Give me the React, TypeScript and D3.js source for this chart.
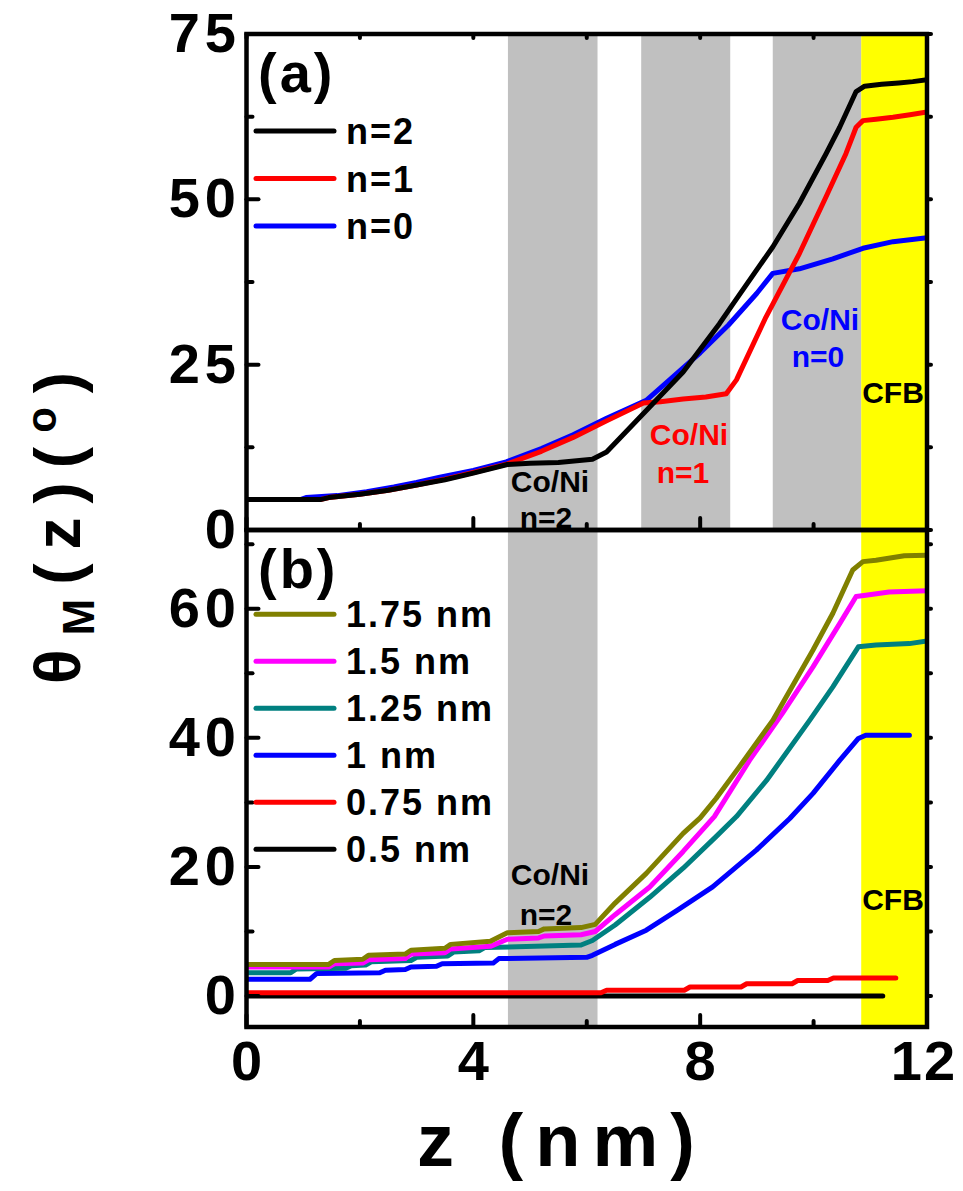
import React from "react";
import * as d3 from "d3";

// ---------- data ----------
const xTicksMajor = [0, 4, 8, 12];
const xTicksMinor = [2, 6, 10];
const yTicksMajorA = [0, 25, 50, 75];
const yTicksMinorA = [12.5, 37.5, 62.5];
const yTicksMajorB = [0, 20, 40, 60];
const yTicksMinorB = [10, 30, 50, 70];

// layer bands (nm)
const grayBandsA: [number, number][] = [[4.61, 6.19], [6.96, 8.53], [9.28, 10.84]];
const grayBandsB: [number, number][] = [[4.61, 6.19]];
const cfbBand: [number, number] = [10.84, 12];

// panel (a)
const curveN2: [number, number][] = [
  [0, 4.6], [1.3, 4.6], [1.45, 4.9], [2.0, 5.4], [2.5, 6.0], [3.0, 6.8], [3.5, 7.6], [4.0, 8.6],
  [4.6, 9.9], [5.0, 10.1], [5.5, 10.2], [6.1, 10.7], [6.35, 11.8], [7.11, 18.6], [7.7, 23.9],
  [8.34, 31.2], [8.58, 34.2], [9.28, 42.8], [9.75, 49.4], [10.22, 56.9], [10.46, 60.9],
  [10.75, 66.3], [10.9, 67.1], [11.2, 67.4], [11.5, 67.6], [11.75, 67.8], [12, 68.1],
];
const curveN1: [number, number][] = [
  [0, 4.6], [1.3, 4.6], [1.45, 4.9], [2.0, 5.4], [2.5, 6.0], [3.0, 6.8], [3.5, 7.7], [4.0, 8.7],
  [4.6, 10.0], [5.2, 11.9], [5.76, 14.0], [6.35, 16.5], [7.0, 19.2], [7.3, 19.4], [7.7, 19.8],
  [8.1, 20.1], [8.46, 20.6], [8.64, 22.7], [9.16, 32.2], [9.75, 41.8], [10.22, 50.4],
  [10.57, 56.9], [10.75, 60.9], [10.87, 61.9], [11.1, 62.1], [11.4, 62.4], [11.7, 62.8], [12, 63.2],
];
const curveN0: [number, number][] = [
  [0, 4.6], [0.95, 4.6], [1.05, 4.9], [1.6, 5.2], [2.12, 5.8], [2.6, 6.5], [3.0, 7.2], [3.41, 8.0],
  [4.0, 9.0], [4.58, 10.3], [5.2, 12.3], [5.76, 14.4], [6.35, 16.9], [7.05, 19.6], [7.5, 23.0],
  [8.0, 26.8], [8.5, 31.0], [9.0, 35.8], [9.28, 38.8], [9.75, 39.5], [10.34, 41.0], [10.87, 42.6],
  [11.4, 43.6], [12, 44.2],
];

// panel (b)
const curve175: [number, number][] = [
  [0, 4.9], [1.45, 4.9], [1.55, 5.5], [2.05, 5.7], [2.15, 6.3], [2.8, 6.5], [2.9, 7.1], [3.5, 7.4],
  [3.6, 8.0], [4.3, 8.5], [4.6, 9.8], [5.15, 10.0], [5.25, 10.4], [5.9, 10.6], [6.15, 11.1],
  [6.5, 14.4], [7.05, 19.0], [7.7, 25.2], [8.0, 27.6], [8.28, 30.6], [8.69, 35.5], [9.28, 42.7],
  [9.99, 53.6], [10.34, 59.3], [10.69, 66.0], [10.87, 67.3], [11.1, 67.5], [11.6, 68.2], [12, 68.3],
];
const curve150: [number, number][] = [
  [0, 4.5], [1.45, 4.5], [1.55, 5.0], [2.05, 5.1], [2.15, 5.6], [2.8, 5.8], [2.9, 6.5], [3.5, 6.7],
  [3.6, 7.3], [4.3, 7.7], [4.6, 8.8], [5.15, 9.0], [5.25, 9.3], [5.9, 9.5], [6.15, 10.0],
  [6.5, 12.6], [7.11, 16.9], [7.7, 22.4], [8.25, 27.8], [8.87, 36.5], [9.45, 43.8], [9.99, 51.0],
  [10.46, 57.7], [10.75, 61.9], [10.92, 62.1], [11.33, 62.6], [12, 62.8],
];
const curve125: [number, number][] = [
  [0, 3.6], [0.78, 3.6], [0.88, 4.2], [1.75, 4.3], [1.85, 4.7], [2.1, 4.8], [2.2, 5.3], [2.9, 5.5],
  [3.0, 6.0], [3.55, 6.2], [3.65, 6.8], [4.1, 7.0], [4.2, 7.5], [5.9, 7.9], [6.1, 8.6],
  [6.5, 11.0], [7.11, 15.3], [7.7, 19.8], [8.28, 24.7], [8.64, 27.8], [9.17, 33.4], [9.93, 42.7],
  [10.34, 47.9], [10.79, 54.1], [11.1, 54.4], [11.69, 54.6], [12, 55.0],
];
const curve100: [number, number][] = [
  [0, 2.6], [1.12, 2.6], [1.24, 3.5], [2.35, 3.6], [2.45, 4.0], [2.8, 4.1], [2.9, 4.5], [3.35, 4.6],
  [3.45, 5.0], [4.35, 5.1], [4.45, 5.8], [6.0, 6.0], [6.1, 6.3], [6.5, 8.0], [7.05, 10.2],
  [7.6, 13.3], [8.22, 16.9], [8.99, 22.6], [9.58, 27.5], [9.99, 31.4], [10.46, 36.5],
  [10.79, 39.9], [10.92, 40.4], [11.69, 40.4],
];
const curve075: [number, number][] = [
  [0, 0.5], [6.25, 0.5], [6.35, 0.9], [7.72, 0.9], [7.82, 1.4], [8.72, 1.4], [8.82, 1.9],
  [9.62, 1.9], [9.72, 2.4], [10.25, 2.4], [10.35, 2.8], [11.45, 2.8],
];
const curve050: [number, number][] = [[0, 0], [11.22, 0]];

const seriesA = [
  { label: "n=2", color: "#000000", data: curveN2 },
  { label: "n=1", color: "#ff0000", data: curveN1 },
  { label: "n=0", color: "#0000ff", data: curveN0 },
];
const seriesB = [
  { label: "1.75 nm", color: "#808000", data: curve175 },
  { label: "1.5 nm", color: "#ff00ff", data: curve150 },
  { label: "1.25 nm", color: "#008080", data: curve125 },
  { label: "1 nm", color: "#0000ff", data: curve100 },
  { label: "0.75 nm", color: "#ff0000", data: curve075 },
  { label: "0.5 nm", color: "#000000", data: curve050 },
];

// ---------- layout ----------
const W = 963;
const H = 1191;
const X0 = 246.5;
const X1 = 927;
const A_TOP = 34;
const MID = 530;
const B_BOT = 1027;
const FONT = "'Liberation Sans', Arial, Helvetica, sans-serif";

const x = d3.scaleLinear().domain([0, 12]).range([X0, X1]);
const yA = d3.scaleLinear().domain([0, 75]).range([MID, A_TOP]);
const yB = d3.scaleLinear().domain([-4.8, 72.2]).range([B_BOT, MID]);

function Panel({ y, top, bottom, bands, series, id }: any) {
  const line = d3
    .line<[number, number]>()
    .x((d) => x(d[0]))
    .y((d) => y(d[1]));
  return (
    <g>
      <defs>
        <clipPath id={id}>
          <rect x={X0} y={top} width={X1 - X0} height={bottom - top} />
        </clipPath>
      </defs>
      {bands.map((b: [number, number], i: number) => (
        <rect key={i} x={x(b[0])} y={top} width={x(b[1]) - x(b[0])} height={bottom - top} fill="#c0c0c0" />
      ))}
      <rect x={x(cfbBand[0])} y={top} width={x(cfbBand[1]) - x(cfbBand[0])} height={bottom - top} fill="#ffff00" />
      <g clipPath={`url(#${id})`}>
        {[...series].reverse().map((s: any) => (
          <path key={s.label} d={line(s.data) || ""} fill="none" stroke={s.color} strokeWidth={5} strokeLinejoin="round" strokeLinecap="round" />
        ))}
      </g>
    </g>
  );
}

function Legend({ series, y0, dy }: any) {
  return (
    <g>
      {series.map((s: any, i: number) => (
        <g key={s.label}>
          <line x1={256} x2={334} y1={y0 + i * dy} y2={y0 + i * dy} stroke={s.color} strokeWidth={5} strokeLinecap="round" />
          <text x={346} y={y0 + i * dy + 13} fontSize={36} fontWeight="bold" fontFamily={FONT} letterSpacing={2}>
            {s.label}
          </text>
        </g>
      ))}
    </g>
  );
}

export default function App() {
  const tickLen = 12;
  const minorLen = 6;
  const ann = { fontSize: 30, fontWeight: "bold" as const, fontFamily: FONT, textAnchor: "middle" as const };
  const tickLS = 5;
  return (
    <svg width={W} height={H} style={{ position: "absolute", left: 0, top: 0, background: "#fff" }}>
      <rect x={0} y={0} width={W} height={H} fill="#fff" />
      <Panel y={yA} top={A_TOP} bottom={MID} bands={grayBandsA} series={seriesA} id="clipA" />
      <Panel y={yB} top={MID} bottom={B_BOT} bands={grayBandsB} series={seriesB} id="clipB" />

      {/* frames */}
      <g stroke="#000" strokeWidth={4.5} fill="none" strokeLinecap="square">
        <rect x={X0} y={A_TOP} width={X1 - X0} height={MID - A_TOP} />
        <rect x={X0} y={MID} width={X1 - X0} height={B_BOT - MID} />
      </g>

      {/* ticks */}
      <g stroke="#000" strokeWidth={4} strokeLinecap="round">
        {yTicksMajorA.map((t) => (
          <line key={"am" + t} x1={X0} x2={X0 + tickLen} y1={yA(t)} y2={yA(t)} />
        ))}
        {yTicksMinorA.map((t) => (
          <line key={"an" + t} x1={X0} x2={X0 + minorLen} y1={yA(t)} y2={yA(t)} />
        ))}
        {yTicksMajorB.map((t) => (
          <line key={"bm" + t} x1={X0} x2={X0 + tickLen} y1={yB(t)} y2={yB(t)} />
        ))}
        {yTicksMinorB.map((t) => (
          <line key={"bn" + t} x1={X0} x2={X0 + minorLen} y1={yB(t)} y2={yB(t)} />
        ))}
        {[...yTicksMajorA, ...yTicksMinorA].map((t) => (
          <line key={"ra" + t} x1={X1} x2={X1 + 4} y1={yA(t)} y2={yA(t)} />
        ))}
        {[...yTicksMajorB, ...yTicksMinorB].map((t) => (
          <line key={"rb" + t} x1={X1} x2={X1 + 4} y1={yB(t)} y2={yB(t)} />
        ))}
        {xTicksMajor.map((t) => (
          <g key={"xm" + t}>
            <line x1={x(t)} x2={x(t)} y1={MID} y2={MID - tickLen} />
            <line x1={x(t)} x2={x(t)} y1={B_BOT} y2={B_BOT - tickLen} />
            <line x1={x(t)} x2={x(t)} y1={A_TOP} y2={A_TOP + 4} />
          </g>
        ))}
        {xTicksMinor.map((t) => (
          <g key={"xn" + t}>
            <line x1={x(t)} x2={x(t)} y1={MID} y2={MID - minorLen} />
            <line x1={x(t)} x2={x(t)} y1={B_BOT} y2={B_BOT - minorLen} />
            <line x1={x(t)} x2={x(t)} y1={A_TOP} y2={A_TOP + 4} />
          </g>
        ))}
      </g>

      {/* tick labels */}
      <g fontSize={56} fontWeight="bold" fontFamily={FONT} textAnchor="end" letterSpacing={tickLS}>
        {yTicksMajorA.map((t) => (
          <text key={"la" + t} x={236 + tickLS} y={yA(t) + 18}>
            {t}
          </text>
        ))}
        {yTicksMajorB.map((t) => (
          <text key={"lb" + t} x={236 + tickLS} y={yB(t) + 18}>
            {t}
          </text>
        ))}
      </g>
      <g fontSize={56} fontWeight="bold" fontFamily={FONT} textAnchor="middle" letterSpacing={2}>
        {xTicksMajor.map((t) => (
          <text key={"lx" + t} x={Math.min(x(t) + 1, 924)} y={1080}>
            {t}
          </text>
        ))}
      </g>

      {/* axis titles */}
      <text x={556 + 6} y={1166} fontSize={74} fontWeight="bold" fontFamily={FONT} textAnchor="middle" letterSpacing={12}>
        z (nm)
      </text>
      <text transform="translate(80,684) rotate(-90)" fontSize={64} fontWeight="bold" fontFamily={FONT} textAnchor="start" letterSpacing={14}>
        θ<tspan fontSize={44} dy={14}>M</tspan>
        <tspan dy={-14}>(z)(</tspan>
        <tspan fontSize={42} dy={-24}>o</tspan>
        <tspan dy={24}>)</tspan>
      </text>

      {/* panel labels */}
      <text x={258} y={92} fontSize={56} fontWeight="bold" fontFamily={FONT} letterSpacing={3}>(a)</text>
      <text x={258} y={588} fontSize={56} fontWeight="bold" fontFamily={FONT} letterSpacing={3}>(b)</text>

      <Legend series={seriesA} y0={131} dy={47.5} />
      <Legend series={seriesB} y0={614.3} dy={47} />

      {/* annotations panel (a) */}
      <text {...ann} x={550} y={492} fill="#000">Co/Ni</text>
      <text {...ann} x={546} y={528} fill="#000">n=2</text>
      <text {...ann} x={689} y={445} fill="#ff0000">Co/Ni</text>
      <text {...ann} x={683} y={483} fill="#ff0000">n=1</text>
      <text {...ann} x={820} y={330} fill="#0000ff">Co/Ni</text>
      <text {...ann} x={818} y={367} fill="#0000ff">n=0</text>
      <text {...ann} x={893} y={403} fill="#000">CFB</text>
      {/* annotations panel (b) */}
      <text {...ann} x={550} y={885} fill="#000">Co/Ni</text>
      <text {...ann} x={546} y={925} fill="#000">n=2</text>
      <text {...ann} x={893} y={910} fill="#000">CFB</text>
    </svg>
  );
}
